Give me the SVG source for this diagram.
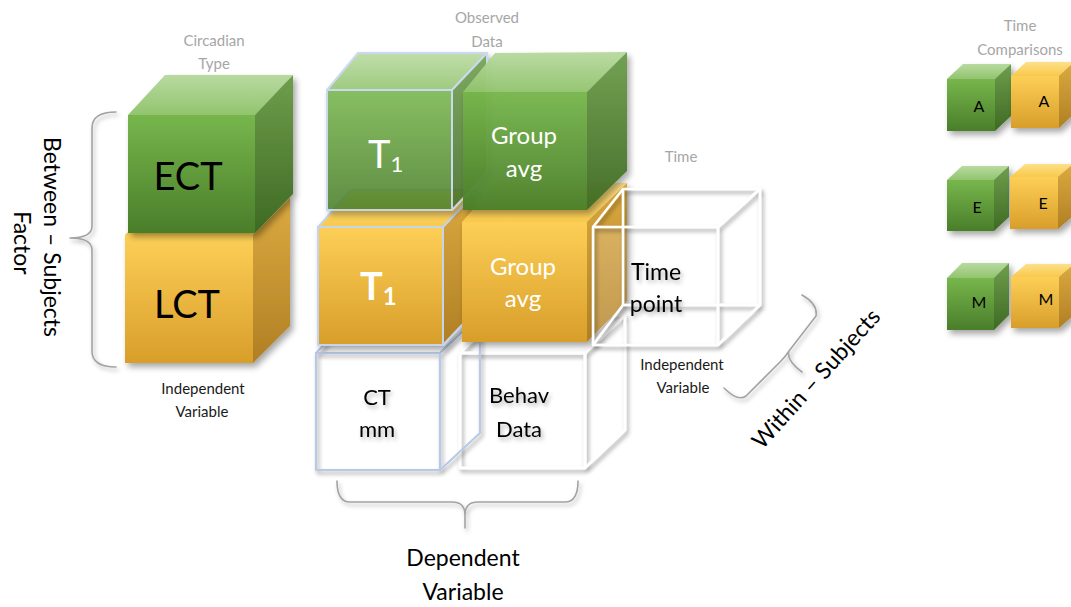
<svg xmlns="http://www.w3.org/2000/svg" width="1071" height="607" viewBox="0 0 1071 607">
  <defs>
    <linearGradient id="gFront" x1="0" y1="0" x2="0" y2="1">
      <stop offset="0" stop-color="#77b64c"/><stop offset="1" stop-color="#4a7e2a"/>
    </linearGradient>
    <linearGradient id="gTop" x1="0" y1="0" x2="0" y2="1">
      <stop offset="0" stop-color="#b8daa0"/><stop offset="1" stop-color="#92c46e"/>
    </linearGradient>
    <linearGradient id="gSide" x1="0" y1="0" x2="0" y2="1">
      <stop offset="0" stop-color="#6e9e4c"/><stop offset="1" stop-color="#3e6a23"/>
    </linearGradient>
    <linearGradient id="oFront" x1="0" y1="0" x2="0" y2="1">
      <stop offset="0" stop-color="#fdcf56"/><stop offset="1" stop-color="#d89e2a"/>
    </linearGradient>
    <linearGradient id="oTop" x1="0" y1="0" x2="0" y2="1">
      <stop offset="0" stop-color="#fee08a"/><stop offset="1" stop-color="#f8c94a"/>
    </linearGradient>
    <linearGradient id="oSide" x1="0" y1="0" x2="0" y2="1">
      <stop offset="0" stop-color="#dcaa40"/><stop offset="1" stop-color="#b07f24"/>
    </linearGradient>
    <filter id="shadow" x="-20%" y="-20%" width="150%" height="150%">
      <feDropShadow dx="3" dy="4" stdDeviation="3" flood-color="#000" flood-opacity="0.35"/>
    </filter>
    <filter id="wireShadow" x="-20%" y="-20%" width="150%" height="150%">
      <feDropShadow dx="2" dy="3" stdDeviation="2.2" flood-color="#000" flood-opacity="0.4"/>
    </filter>
    <filter id="textShadow" x="-20%" y="-20%" width="150%" height="160%">
      <feDropShadow dx="2" dy="3" stdDeviation="2" flood-color="#000" flood-opacity="0.3"/>
    </filter>
  </defs>
  <style>
    text { font-family: Lato, "Liberation Sans", sans-serif; }
    .gF { fill: url(#gFront); }
    .gT { fill: url(#gTop); }
    .gS { fill: url(#gSide); }
    .oF { fill: url(#oFront); }
    .oT { fill: url(#oTop); }
    .oS { fill: url(#oSide); }
    .blueEdge { stroke: #c4d4ee; stroke-width: 2; stroke-linejoin: round; }
    .wire { fill: none; stroke: #ffffff; stroke-width: 2.5; stroke-linejoin: round; }
    .wireBlue { fill: none; stroke: #b7c9e8; stroke-width: 2; stroke-linejoin: round; }
    .caption { fill: #a6a6a6; font-size: 15px; text-anchor: middle; }
    .note { fill: #1a1a1a; font-size: 15px; text-anchor: middle; }
    .big { fill: #000; font-size: 38px; text-anchor: middle; }
    .white { fill: #ffffff; font-size: 24px; text-anchor: middle; }
    .dark { fill: #000; font-size: 22px; text-anchor: middle; }
    .label { fill: #000; font-size: 23px; text-anchor: middle; }
    .small { fill: #000; font-size: 16px; text-anchor: middle; }
    .brace { fill: none; stroke: #a3a3a3; stroke-width: 1.6; stroke-linecap: round; stroke-linejoin: round; }
  </style>

  <!-- captions -->
  <text class="caption" x="214" y="46">Circadian</text>
  <text class="caption" x="214" y="69">Type</text>
  <text class="caption" x="487" y="23">Observed</text>
  <text class="caption" x="487" y="47">Data</text>
  <text class="caption" x="681" y="162">Time</text>
  <text class="caption" x="1020" y="31">Time</text>
  <text class="caption" x="1020" y="55">Comparisons</text>

  <!-- connectors: braces -->
  <g id="connectors" filter="url(#textShadow)">
    <path class="brace" d="M116,112 Q92,112 92,128 L92,226 Q92,238 70,238 M70,238 Q92,238 92,250 L92,351 Q92,367 116,367"/>
    <path class="brace" d="M337,481 Q337,502 350,502 L452,502 Q465,502 465,515 L465,528 M465,515 Q465,502 478,502 L565,502 Q578,502 578,481"/>
    <path class="brace" d="M802,295 Q818,304 816,316 L789,351 Q786,360 802,372 M789,351 Q786,356 780,362 L746,396 Q738,402 724,388"/>
  </g>

  <!-- side labels -->
  <text class="label" transform="translate(44,237) rotate(90)">Between – Subjects</text>
  <text class="label" transform="translate(14,243) rotate(90)">Factor</text>
  <text class="label" font-size="24" transform="translate(822,384) rotate(-48)">Within – Subjects</text>
  <text class="note" x="203" y="394">Independent</text>
  <text class="note" x="202" y="417">Variable</text>
  <text class="note" x="682" y="370">Independent</text>
  <text class="note" x="683" y="393">Variable</text>
  <text class="label" x="463" y="566" font-size="25">Dependent</text>
  <text class="label" x="463" y="600" font-size="25">Variable</text>

  <!-- circadian type column -->
  <g id="lct">
    <g filter="url(#shadow)">
      <polygon class="oT" points="125,235 162,198 290,198 253,235"/>
      <polygon class="oS" points="253,235 290,198 290,326 253,363"/>
      <rect class="oF" x="125" y="235" width="128" height="128"/>
    </g>
    <text class="big" x="187" y="318">LCT</text>
  </g>
  <g id="ect">
    <g filter="url(#shadow)">
      <polygon class="gT" points="128,115 165,75 293,75 255,115"/>
      <polygon class="gS" points="255,115 293,75 293,194 255,233"/>
      <rect class="gF" x="128" y="115" width="127" height="118"/>
    </g>
    <text class="big" x="188" y="190">ECT</text>
  </g>

  <!-- bottom row: dependent measures -->
  <g id="behav-data">
    <polygon fill="#fff" points="460,353 498,315 625,315 625,430 585,468 460,468"/>
    <g filter="url(#wireShadow)">
      <polygon class="wire" points="460,353 498,315 625,315 585,353"/>
      <polygon class="wire" points="585,353 625,315 625,430 585,468"/>
      <rect class="wire" x="460" y="353" width="125" height="115"/>
    </g>
    <g filter="url(#textShadow)">
      <text class="dark" x="519" y="403">Behav</text>
      <text class="dark" x="519" y="437">Data</text>
    </g>
  </g>
  <g id="ct-mm">
    <g filter="url(#wireShadow)">
      <polygon class="wireBlue" points="316,353 352,315 480,315 440,353"/>
      <polygon class="wireBlue" points="440,353 480,315 480,433 440,470"/>
      <rect class="wireBlue" x="316" y="353" width="124" height="117"/>
    </g>
    <g filter="url(#textShadow)">
      <text class="dark" x="377" y="405">CT</text>
      <text class="dark" x="377" y="437">mm</text>
    </g>
  </g>

  <!-- middle row: LCT observations -->
  <g id="lct-t1">
    <g filter="url(#shadow)">
      <polygon class="oT blueEdge" points="318,227 351,190 478,190 443,227"/>
      <polygon class="oS blueEdge" points="443,227 478,190 478,308 443,345"/>
      <rect class="oF blueEdge" x="318" y="227" width="125" height="118"/>
    </g>
    <text fill="#fff" font-size="38" font-weight="bold" x="360" y="300">T<tspan font-size="24" dy="5">1</tspan></text>
  </g>
  <g id="lct-group-avg">
    <g filter="url(#shadow)">
      <polygon class="oT" points="462,222 496,183 627,183 587,222"/>
      <polygon class="oS" points="587,222 627,183 627,301 587,342"/>
      <rect class="oF" x="462" y="222" width="125" height="120"/>
    </g>
    <text class="white" x="523" y="275">Group</text>
    <text class="white" x="523" y="307">avg</text>
  </g>

  <!-- top row: ECT observations -->
  <g id="ect-t1">
    <g filter="url(#shadow)" opacity="0.88">
      <polygon class="gT blueEdge" points="327,90 358,53 487,53 452,90"/>
      <polygon class="gS blueEdge" points="452,90 487,53 487,173 452,210"/>
      <rect class="gF blueEdge" x="327" y="90" width="125" height="120"/>
    </g>
    <text fill="#fff" font-size="38" x="368" y="168">T<tspan font-size="22" dy="4">1</tspan></text>
  </g>
  <g id="ect-group-avg">
    <g filter="url(#shadow)" opacity="0.96">
      <polygon class="gT" points="463,92 495,53 627,52 587,92"/>
      <polygon class="gS" points="587,92 627,52 627,171 587,210"/>
      <rect class="gF" x="463" y="92" width="124" height="118"/>
    </g>
    <text class="white" x="524" y="144">Group</text>
    <text class="white" x="524" y="177">avg</text>
  </g>

  <!-- time point (within-subjects) -->
  <g id="time-point">
    <rect x="593" y="227" width="125" height="118" fill="#fff" fill-opacity="0.2"/>
    <g filter="url(#wireShadow)">
      <rect class="wire" x="623" y="189" width="137" height="116"/>
      <path class="wire" d="M593,227 L623,189 M718,227 L760,189 M718,345 L760,305 M593,345 L623,305"/>
      <rect class="wire" x="593" y="227" width="125" height="118"/>
    </g>
    <g filter="url(#textShadow)">
      <text class="label" x="656" y="280" font-size="26">Time</text>
      <text class="label" x="656" y="312" font-size="26">point</text>
    </g>
  </g>

  <!-- time comparison cubes -->
  <g id="cmp-a-ect">
    <g filter="url(#shadow)">
      <polygon class="gT" points="947,79 963,64 1011,64 995,79"/>
      <polygon class="gS" points="995,79 1011,64 1011,116 995,131"/>
      <rect class="gF" x="947" y="79" width="48" height="52"/>
    </g>
    <text class="small" x="979" y="112">A</text>
  </g>
  <g id="cmp-a-lct">
    <g filter="url(#shadow)">
      <polygon class="oT" points="1011,76 1026,62 1074,62 1059,76"/>
      <polygon class="oS" points="1059,76 1074,62 1074,114 1059,128"/>
      <rect class="oF" x="1011" y="76" width="48" height="52"/>
    </g>
    <text class="small" x="1044" y="107">A</text>
  </g>
  <g id="cmp-e-ect">
    <g filter="url(#shadow)">
      <polygon class="gT" points="947,180 962,166 1009,166 994,180"/>
      <polygon class="gS" points="994,180 1009,166 1009,217 994,231"/>
      <rect class="gF" x="947" y="180" width="47" height="51"/>
    </g>
    <text class="small" x="977" y="213">E</text>
  </g>
  <g id="cmp-e-lct">
    <g filter="url(#shadow)">
      <polygon class="oT" points="1010,177 1025,164 1073,164 1058,177"/>
      <polygon class="oS" points="1058,177 1073,164 1073,216 1058,229"/>
      <rect class="oF" x="1010" y="177" width="48" height="52"/>
    </g>
    <text class="small" x="1043" y="209">E</text>
  </g>
  <g id="cmp-m-ect">
    <g filter="url(#shadow)">
      <polygon class="gT" points="947,278 962,263 1009,263 994,278"/>
      <polygon class="gS" points="994,278 1009,263 1009,315 994,330"/>
      <rect class="gF" x="947" y="278" width="47" height="52"/>
    </g>
    <text class="small" x="979" y="308">M</text>
  </g>
  <g id="cmp-m-lct">
    <g filter="url(#shadow)">
      <polygon class="oT" points="1011,277 1026,264 1074,264 1059,277"/>
      <polygon class="oS" points="1059,277 1074,264 1074,315 1059,328"/>
      <rect class="oF" x="1011" y="277" width="48" height="51"/>
    </g>
    <text class="small" x="1046" y="305">M</text>
  </g>
</svg>
